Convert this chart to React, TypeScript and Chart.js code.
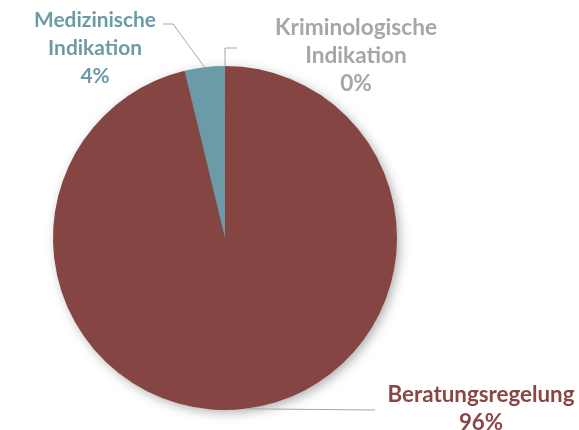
import React, { useEffect, useRef } from "react";
import { Chart, registerables } from "chart.js";

Chart.register(...registerables);

const categories = ["Kriminologische Indikation", "Beratungsregelung", "Medizinische Indikation"];
const values = [0.02, 96.2, 3.78];
const percentLabels = ["0%", "96%", "4%"];
const sliceColors = ["#A6A6A6", "#854543", "#6A9BA6"];
const labelColors = ["#A6A6A6", "#8A4644", "#6A9BA6"];

const FONT_FAMILY = "Lato, 'Open Sans', sans-serif";

const labelLayout = [
  // Kriminologische
  { lines: ["Kriminologische", "Indikation"], cx: 356, base: 35, fitWidth: 162, elbow: [[225, 48], [237, 48]] },
  // Beratungsregelung
  { lines: ["Beratungsregelung"], cx: 481, base: 402, fitWidth: 187, elbow: [[375, 410]] },
  // Medizinische
  { lines: ["Medizinische", "Indikation"], cx: 95, base: 27, fitWidth: 122, elbow: [[173, 24], [163, 24]] },
];

const shadowPlugin = {
  id: "pieShadow",
  beforeDatasetsDraw(chart: any) {
    const meta = chart.getDatasetMeta(0);
    const arc = meta.data[0];
    if (!arc) return;
    const { x, y, outerRadius } = arc.getProps(["x", "y", "outerRadius"], true);
    const ctx = chart.ctx;
    ctx.save();
    ctx.shadowColor = "rgba(0,0,0,0.35)";
    ctx.shadowBlur = 12;
    ctx.shadowOffsetX = 3;
    ctx.shadowOffsetY = 3;
    ctx.fillStyle = "#854543";
    ctx.beginPath();
    ctx.arc(x, y, outerRadius - 1, 0, Math.PI * 2);
    ctx.fill();
    ctx.restore();
  },
};

const labelPlugin = {
  id: "pieLabels",
  afterDatasetsDraw(chart: any) {
    const ctx = chart.ctx;
    const meta = chart.getDatasetMeta(0);
    ctx.save();
    meta.data.forEach((arc: any, i: number) => {
      const { x, y, startAngle, endAngle, outerRadius } = arc.getProps(
        ["x", "y", "startAngle", "endAngle", "outerRadius"],
        true
      );
      const mid = (startAngle + endAngle) / 2;
      const ax = x + Math.cos(mid) * outerRadius;
      const ay = y + Math.sin(mid) * outerRadius;
      const lay = labelLayout[i];
      ctx.strokeStyle = "#A6A6A6";
      ctx.lineWidth = 1;
      ctx.beginPath();
      ctx.moveTo(ax, ay);
      lay.elbow.forEach((p) => ctx.lineTo(p[0], p[1]));
      ctx.stroke();
      // fit font size to the target width of the first line
      ctx.font = `bold 20px ${FONT_FAMILY}`;
      const w = ctx.measureText(lay.lines[0]).width;
      const size = (20 * lay.fitWidth) / w;
      ctx.font = `bold ${size.toFixed(2)}px ${FONT_FAMILY}`;
      ctx.fillStyle = labelColors[i];
      ctx.textAlign = "center";
      ctx.textBaseline = "alphabetic";
      const lines = [...lay.lines, percentLabels[i]];
      lines.forEach((t, k) => {
        ctx.fillText(t, lay.cx, lay.base + k * 28);
      });
    });
    ctx.restore();
  },
};

export default function App() {
  const ref = useRef<HTMLCanvasElement>(null);
  useEffect(() => {
    document.body.style.margin = "0";
    if (!ref.current) return;
    const chart = new Chart(ref.current, {
      type: "pie",
      data: {
        labels: categories,
        datasets: [
          {
            data: values,
            backgroundColor: sliceColors,
            borderWidth: 0,
          },
        ],
      },
      options: {
        responsive: false,
        animation: false,
        layout: { padding: { left: 53, right: 182, top: 66, bottom: 20 } },
        plugins: {
          legend: { display: false },
          tooltip: { enabled: false },
        },
      },
      plugins: [shadowPlugin, labelPlugin],
    });
    return () => chart.destroy();
  }, []);
  return (
    <div style={{ width: 579, height: 430, background: "#fff" }}>
      <canvas ref={ref} width={579} height={430} />
    </div>
  );
}
